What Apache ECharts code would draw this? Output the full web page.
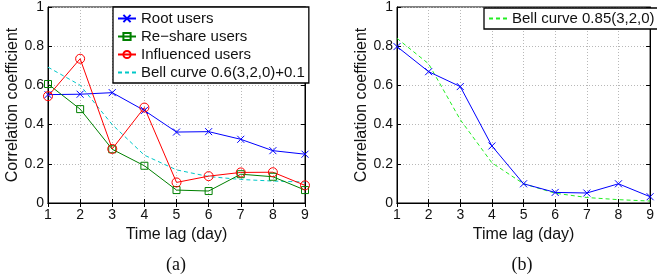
<!DOCTYPE html>
<html>
<head>
<meta charset="utf-8">
<script src="https://cdn.jsdelivr.net/npm/echarts@6/dist/echarts.min.js"></script>
<style>
  html, body { margin: 0; padding: 0; background: #fff; }
  #chart { width: 657px; height: 280px; }
</style>
</head>
<body>
<div id="chart"></div>
<script>
// time lag (day)
const days = [1, 2, 3, 4, 5, 6, 7, 8, 9];

// panel (a)
const rootUsers       = [0.553, 0.555, 0.563, 0.472, 0.362, 0.364, 0.325, 0.267, 0.249];
const reshareUsers    = [0.607, 0.479, 0.274, 0.190, 0.066, 0.061, 0.147, 0.134, 0.066];
const influencedUsers = [0.545, 0.736, 0.276, 0.487, 0.105, 0.137, 0.156, 0.157, 0.090];
const bellA           = [0.693, 0.601, 0.400, 0.244, 0.169, 0.135, 0.120, 0.112, 0.107];

// panel (b)
const rootUsersB = [0.798, 0.670, 0.594, 0.291, 0.098, 0.054, 0.051, 0.098, 0.032];
const bellB      = [0.840, 0.710, 0.425, 0.205, 0.098, 0.050, 0.028, 0.017, 0.010];

const yTicks = [0, 0.2, 0.4, 0.6, 0.8, 1];

const FONT = '"Liberation Sans", Arial, sans-serif';
const pairs = (ys) => days.map((d, i) => [d, ys[i]]);
const yLabel = (v) => (yTicks.includes(+v.toFixed(1)) ? String(+v.toFixed(1)) : '');

const CROSS = 'path://M0,0L10,10M10,0L0,10';
const SQUARE = 'path://M0,0L10,0L10,10L0,10Z';

const grids = [
  { left: 48, top: 6, width: 257, height: 197 },
  { left: 397, top: 6, width: 257, height: 197 },
];

const baseX = (gridIndex) => ({
  type: 'value', gridIndex, min: 1, max: 9, interval: 1,
  axisLine: { lineStyle: { color: '#000', width: 1 } },
  axisTick: { inside: true, length: 4, lineStyle: { color: '#000' } },
  axisLabel: { color: '#111', fontFamily: FONT, fontSize: 14, margin: 5 },
  splitLine: { show: true, lineStyle: { color: '#b8b8b8', type: [1, 2], width: 1 } },
  name: 'Time lag (day)', nameLocation: 'middle', nameGap: 17,
  nameTextStyle: { color: '#111', fontFamily: FONT, fontSize: 16 },
});
const mirrorX = (gridIndex) => ({
  type: 'value', gridIndex, position: 'top', min: 1, max: 9, interval: 1,
  axisLine: { lineStyle: { color: '#000' } },
  axisTick: { inside: true, length: 4, lineStyle: { color: '#000' } },
  axisLabel: { show: false }, splitLine: { show: false },
});
const baseY = (gridIndex) => ({
  type: 'value', gridIndex, min: 0, max: 1, interval: 0.2,
  axisLine: { show: true, lineStyle: { color: '#000', width: 1 } },
  axisTick: { show: true, inside: true, length: 4, lineStyle: { color: '#000' } },
  axisLabel: { color: '#111', fontFamily: FONT, fontSize: 14, margin: 4, formatter: yLabel },
  splitLine: { show: true, lineStyle: { color: '#b8b8b8', type: [1, 2], width: 1 } },
  name: 'Correlation coefficient', nameLocation: 'middle', nameGap: 24,
  nameTextStyle: { color: '#111', fontFamily: FONT, fontSize: 16 },
});
const mirrorY = (gridIndex) => ({
  type: 'value', gridIndex, position: 'right', min: 0, max: 1, interval: 0.2,
  axisLine: { show: true, lineStyle: { color: '#000' } },
  axisTick: { show: true, inside: true, length: 4, lineStyle: { color: '#000' } },
  axisLabel: { show: false }, splitLine: { show: false },
});

const lineSeries = (name, ys, axis, color, opts = {}) => ({
  name, type: 'line', xAxisIndex: axis, yAxisIndex: axis,
  data: pairs(ys), symbol: 'none', animation: false,
  lineStyle: { color, width: 1, type: opts.dash ? [4, 3] : 'solid' },
  itemStyle: { color: opts.fill || color, borderColor: opts.border || color, borderWidth: 1 },
  ...opts.extra,
});

const legendText = { color: '#111', fontFamily: FONT, fontSize: 15, lineHeight: 15 };
const captionFont = '18px "Liberation Serif", "Times New Roman", serif';

const option = {
  backgroundColor: '#fff',
  animation: false,
  grid: grids.map((g) => ({ ...g, show: true, borderColor: '#000', borderWidth: 1, backgroundColor: '#fff' })),
  xAxis: [baseX(0), baseX(1), mirrorX(0), mirrorX(1)],
  yAxis: [baseY(0), baseY(1), mirrorY(0), mirrorY(1)],
  legend: [
    {
      left: 113, top: 7, orient: 'vertical',
      data: ['Root users', 'Re\u2212share users', 'Influenced users', 'Bell curve 0.6(3,2,0)+0.1'],
      itemWidth: 18, itemHeight: 9, itemGap: 3,
      padding: [4, 4, 3, 4],
      backgroundColor: '#fff', borderColor: '#000', borderWidth: 1.3,
      textStyle: legendText, selectedMode: false,
    },
    {
      left: 484, top: 8, orient: 'vertical',
      data: ['Bell curve 0.85(3,2,0)'],
      itemWidth: 18, itemHeight: 9,
      padding: [3, 5, 3, 4],
      backgroundColor: '#fff', borderColor: '#000', borderWidth: 1.3,
      textStyle: legendText, selectedMode: false,
    },
  ],
  series: [
    lineSeries('Bell curve 0.6(3,2,0)+0.1', bellA, 0, '#00c8c8', { dash: true, fill: 'transparent', border: 'transparent' }),
    lineSeries('Root users', rootUsers, 0, '#0000ff', { extra: { symbol: CROSS, symbolSize: 7 } }),
    lineSeries('Re\u2212share users', reshareUsers, 0, '#008000', { fill: 'transparent', extra: { symbol: SQUARE, symbolSize: 7 } }),
    lineSeries('Influenced users', influencedUsers, 0, '#ff0000', { fill: 'transparent', extra: { symbol: 'circle', symbolSize: 9 } }),
    lineSeries('Bell curve 0.85(3,2,0)', bellB, 1, '#22ee22', { dash: true, fill: 'transparent', border: 'transparent' }),
    lineSeries('Root users B', rootUsersB, 1, '#0000ff', { extra: { symbol: CROSS, symbolSize: 7 } }),
  ],
  graphic: [
    { type: 'text', x: 176, y: 265, style: { text: '(a)', align: 'center', verticalAlign: 'middle', font: captionFont, fill: '#111' } },
    { type: 'text', x: 522, y: 265, style: { text: '(b)', align: 'center', verticalAlign: 'middle', font: captionFont, fill: '#111' } },
  ],
};

const chart = echarts.init(document.getElementById('chart'), null, { renderer: 'canvas' });
chart.setOption(option);
</script>
</body>
</html>
